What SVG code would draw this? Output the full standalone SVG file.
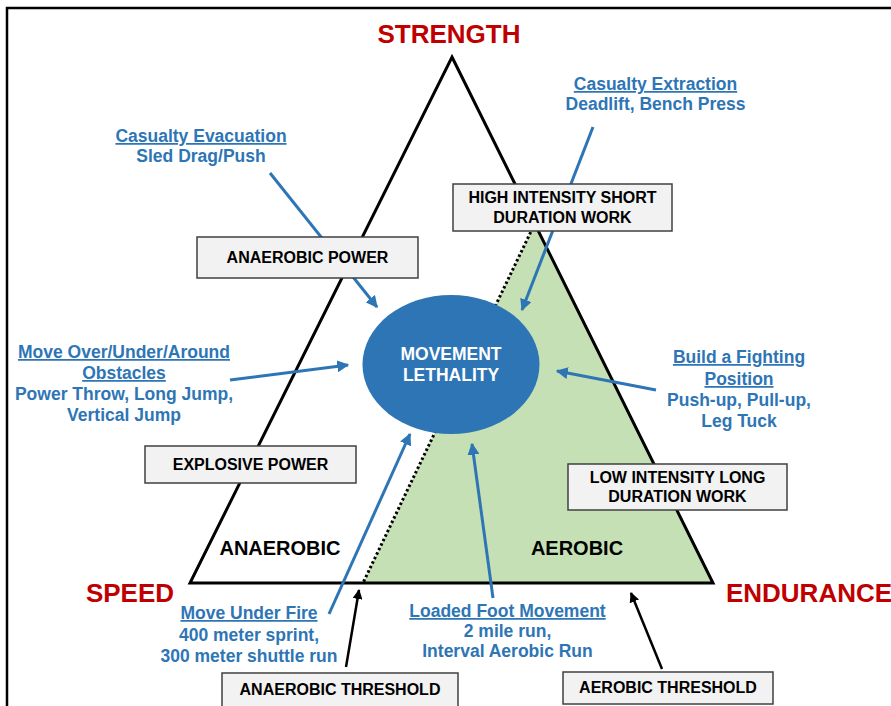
<svg xmlns="http://www.w3.org/2000/svg" width="891" height="706" viewBox="0 0 891 706">
<defs>
<style>
text{font-family:"Liberation Sans",Arial,sans-serif;font-weight:bold;text-anchor:middle}
.red{fill:#c00000;font-size:26px}
.blue{fill:#2e75b6;font-size:17.5px}
.u{text-decoration:underline}
.box rect{fill:#f2f2f2;stroke:#404040;stroke-width:1.5}
.box text{fill:#000;font-size:16px}
.zone{fill:#000;font-size:20px}
.ba{stroke:#2e75b6;stroke-width:3;fill:none;marker-end:url(#ah)}
.ka{stroke:#000;stroke-width:2.5;fill:none;marker-end:url(#kh)}
</style>
<marker id="ah" viewBox="0 0 10 10" refX="9" refY="5" markerWidth="4" markerHeight="4" orient="auto" markerUnits="strokeWidth"><path d="M0,0L10,5L0,10z" fill="#2e75b6"/></marker>
<marker id="kh" viewBox="0 0 10 10" refX="9" refY="5" markerWidth="4" markerHeight="4" orient="auto" markerUnits="strokeWidth"><path d="M0,0L10,5L0,10z" fill="#000"/></marker>
</defs>
<rect x="0" y="0" width="891" height="706" fill="#fff"/>
<rect x="7" y="8" width="900" height="720" fill="none" stroke="#000" stroke-width="2.5"/>

<g id="triangle">
<polygon points="535,223 713,583 363,583" fill="#c5e0b4"/>
<polygon points="452,57 713,583 190,583" fill="none" stroke="#000" stroke-width="3" stroke-linejoin="miter"/>
<line x1="535" y1="223" x2="363" y2="583" stroke="#000" stroke-width="3" stroke-dasharray="2.5 2.5"/>
</g>

<g id="labels">
<text class="red" x="449" y="43">STRENGTH</text>
<text class="red" x="130" y="602">SPEED</text>
<text class="red" x="809" y="602">ENDURANCE</text>
<text class="zone" x="280" y="555">ANAEROBIC</text>
<text class="zone" x="577" y="555">AEROBIC</text>
</g>

<g id="connectors">
<line class="ba" x1="593" y1="127" x2="522" y2="310"/>
<line class="ba" x1="270" y1="173" x2="377" y2="307"/>
<line class="ba" x1="230" y1="380" x2="348" y2="365"/>
<line class="ba" x1="656" y1="390" x2="557" y2="371"/>
<line class="ba" x1="329" y1="614" x2="410" y2="434"/>
<line class="ba" x1="493" y1="598" x2="472" y2="444"/>
<line class="ka" x1="346" y1="667" x2="359" y2="590"/>
<line class="ka" x1="662" y1="669" x2="631" y2="593"/>
</g>

<g id="high-intensity" class="box">
<rect x="453" y="184" width="219" height="47"/>
<text x="562.5" y="203">HIGH INTENSITY SHORT</text>
<text x="562.5" y="223">DURATION WORK</text>
</g>
<g id="anaerobic-power" class="box">
<rect x="197" y="237" width="221" height="41"/>
<text x="307.5" y="263">ANAEROBIC POWER</text>
</g>
<g id="explosive-power" class="box">
<rect x="145" y="446" width="211" height="37"/>
<text x="250.5" y="470">EXPLOSIVE POWER</text>
</g>
<g id="low-intensity" class="box">
<rect x="568" y="464" width="219" height="46"/>
<text x="677.5" y="483">LOW INTENSITY LONG</text>
<text x="677.5" y="502">DURATION WORK</text>
</g>
<g id="anaerobic-threshold" class="box">
<rect x="222" y="673" width="236" height="40"/>
<text x="340" y="695">ANAEROBIC THRESHOLD</text>
</g>
<g id="aerobic-threshold" class="box">
<rect x="563" y="672" width="210" height="32"/>
<text x="668" y="693">AEROBIC THRESHOLD</text>
</g>

<g id="movement-lethality">
<ellipse cx="451" cy="364.5" rx="88.5" ry="69.5" fill="#2e75b6"/>
<text x="451" y="360" fill="#fff" font-size="17.5">MOVEMENT</text>
<text x="451" y="381" fill="#fff" font-size="17.5">LETHALITY</text>
</g>

<g id="casualty-extraction">
<text class="blue u" x="655.5" y="90">Casualty Extraction</text>
<text class="blue" x="655.5" y="110">Deadlift, Bench Press</text>
</g>
<g id="casualty-evacuation">
<text class="blue u" x="201" y="142">Casualty Evacuation</text>
<text class="blue" x="201" y="162">Sled Drag/Push</text>
</g>
<g id="move-over">
<text class="blue u" x="124" y="358">Move Over/Under/Around</text>
<text class="blue u" x="124" y="379">Obstacles</text>
<text class="blue" x="124" y="400">Power Throw, Long Jump,</text>
<text class="blue" x="124" y="421">Vertical Jump</text>
</g>
<g id="fighting-position">
<text class="blue u" x="739" y="363">Build a Fighting</text>
<text class="blue u" x="739" y="385">Position</text>
<text class="blue" x="739" y="406">Push-up, Pull-up,</text>
<text class="blue" x="739" y="427">Leg Tuck</text>
</g>
<g id="move-under-fire">
<text class="blue u" x="249" y="619">Move Under Fire</text>
<text class="blue" x="249" y="641">400 meter sprint,</text>
<text class="blue" x="249" y="662">300 meter shuttle run</text>
</g>
<g id="loaded-foot">
<text class="blue u" x="507.5" y="617">Loaded Foot Movement</text>
<text class="blue" x="507.5" y="637">2 mile run,</text>
<text class="blue" x="507.5" y="657">Interval Aerobic Run</text>
</g>
</svg>
